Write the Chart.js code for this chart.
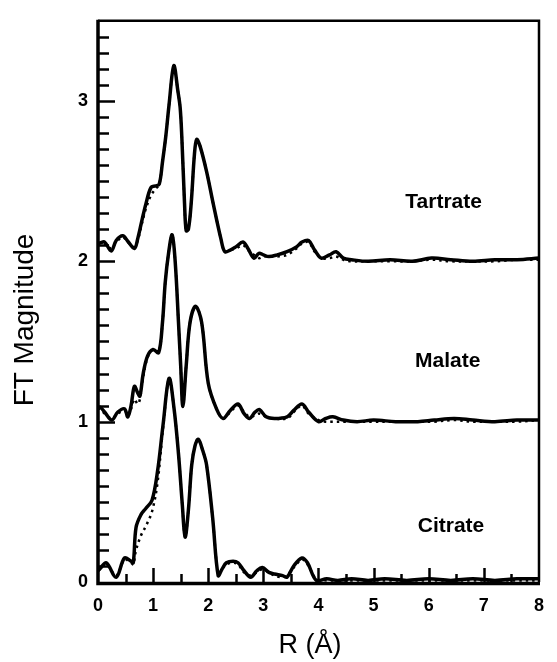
<!DOCTYPE html>
<html>
<head>
<meta charset="utf-8">
<script src="https://cdn.jsdelivr.net/npm/chart.js@4.4.1/dist/chart.umd.min.js"></script>
<style>
  html, body { margin: 0; padding: 0; background: #fff; }
  #wrap { width: 557px; height: 662px; }
</style>
</head>
<body>
<div id="wrap"><canvas id="c" width="557" height="662"></canvas></div>
<script>
// ---- data ----
const seriesNames = ['Tartrate', 'Malate', 'Citrate'];
const xTickValues = [0, 1, 2, 3, 4, 5, 6, 7, 8];
const yTickValues = [0, 1, 2, 3];
const xTitle = 'R (Å)';
const yTitle = 'FT Magnitude';

const tartrateR = [0.00, 0.04, 0.12, 0.24, 0.33, 0.45, 0.54, 0.66, 0.72, 0.80, 0.87, 0.96, 1.04, 1.11, 1.17, 1.23, 1.29, 1.375, 1.45, 1.49, 1.52, 1.57, 1.60, 1.64, 1.69, 1.75, 1.79, 1.85, 1.97, 2.09, 2.23, 2.30, 2.40, 2.50, 2.63, 2.72, 2.83, 2.92, 3.00, 3.10, 3.25, 3.43, 3.60, 3.70, 3.82, 3.93, 4.05, 4.20, 4.32, 4.45, 4.60, 4.90, 5.30, 5.70, 6.05, 6.40, 6.80, 7.20, 7.60, 8.00];
const tartrateData = [2.11, 2.115, 2.12, 2.065, 2.13, 2.16, 2.125, 2.08, 2.14, 2.26, 2.36, 2.46, 2.47, 2.48, 2.62, 2.78, 2.98, 3.22, 3.06, 2.96, 2.78, 2.36, 2.19, 2.20, 2.36, 2.67, 2.76, 2.72, 2.56, 2.36, 2.14, 2.06, 2.07, 2.09, 2.12, 2.08, 2.02, 2.05, 2.04, 2.03, 2.04, 2.06, 2.09, 2.12, 2.13, 2.07, 2.02, 2.04, 2.06, 2.02, 2.01, 2.00, 2.01, 2.00, 2.02, 2.01, 2.00, 2.01, 2.01, 2.02];
const tartrateFit  = [2.11, 2.115, 2.11, 2.08, 2.12, 2.15, 2.12, 2.09, 2.13, 2.24, 2.33, 2.41, 2.45, 2.48, 2.62, 2.78, 2.98, 3.22, 3.06, 2.96, 2.78, 2.36, 2.19, 2.20, 2.36, 2.67, 2.76, 2.72, 2.56, 2.36, 2.14, 2.06, 2.07, 2.08, 2.10, 2.07, 2.04, 2.02, 2.03, 2.03, 2.03, 2.04, 2.08, 2.11, 2.12, 2.06, 2.02, 2.02, 2.03, 2.01, 2.00, 2.00, 2.00, 2.00, 2.01, 2.00, 2.00, 2.00, 2.01, 2.01];

const malateR = [0.00, 0.04, 0.12, 0.25, 0.36, 0.48, 0.54, 0.60, 0.66, 0.72, 0.76, 0.82, 0.90, 1.00, 1.10, 1.17, 1.22, 1.28, 1.345, 1.40, 1.46, 1.50, 1.54, 1.60, 1.67, 1.77, 1.88, 2.00, 2.15, 2.27, 2.40, 2.54, 2.65, 2.75, 2.85, 2.93, 3.05, 3.20, 3.43, 3.55, 3.70, 3.82, 4.00, 4.13, 4.26, 4.45, 4.70, 5.00, 5.40, 5.80, 6.10, 6.46, 6.80, 7.20, 7.60, 8.00];
const malateData = [1.08, 1.09, 1.06, 1.01, 1.06, 1.08, 1.03, 1.10, 1.22, 1.18, 1.16, 1.30, 1.41, 1.45, 1.43, 1.62, 1.87, 2.05, 2.165, 2.00, 1.62, 1.35, 1.095, 1.35, 1.62, 1.72, 1.62, 1.24, 1.08, 1.02, 1.07, 1.11, 1.05, 1.02, 1.06, 1.075, 1.03, 1.02, 1.03, 1.07, 1.11, 1.06, 1.00, 1.02, 1.03, 1.01, 1.00, 1.01, 1.00, 1.00, 1.01, 1.02, 1.01, 1.00, 1.01, 1.01];
const malateFit  = [1.08, 1.08, 1.05, 1.02, 1.05, 1.07, 1.04, 1.08, 1.14, 1.11, 1.14, 1.28, 1.40, 1.45, 1.43, 1.62, 1.87, 2.05, 2.165, 2.00, 1.62, 1.35, 1.095, 1.35, 1.62, 1.72, 1.62, 1.24, 1.08, 1.02, 1.06, 1.10, 1.06, 1.03, 1.04, 1.05, 1.03, 1.02, 1.02, 1.06, 1.10, 1.05, 1.01, 1.00, 1.00, 1.00, 1.00, 1.00, 1.00, 1.00, 1.00, 1.01, 1.00, 1.00, 1.00, 1.01];

const citrateR = [0.00, 0.04, 0.15, 0.33, 0.48, 0.60, 0.64, 0.69, 0.78, 0.87, 0.98, 1.08, 1.18, 1.29, 1.38, 1.46, 1.53, 1.58, 1.64, 1.70, 1.76, 1.82, 1.90, 1.97, 2.08, 2.18, 2.25, 2.33, 2.45, 2.54, 2.65, 2.77, 2.88, 2.98, 3.10, 3.20, 3.35, 3.43, 3.55, 3.70, 3.80, 3.96, 4.15, 4.35, 4.60, 4.90, 5.20, 5.60, 6.00, 6.40, 6.80, 7.20, 7.60, 8.00];
const citrateData = [0.07, 0.085, 0.12, 0.03, 0.15, 0.13, 0.12, 0.34, 0.42, 0.46, 0.51, 0.69, 0.98, 1.27, 1.08, 0.80, 0.48, 0.28, 0.45, 0.73, 0.85, 0.89, 0.82, 0.73, 0.40, 0.04, 0.08, 0.12, 0.13, 0.12, 0.07, 0.03, 0.07, 0.09, 0.06, 0.05, 0.04, 0.03, 0.10, 0.15, 0.12, 0.01, 0.02, 0.01, 0.02, 0.01, 0.02, 0.01, 0.02, 0.01, 0.02, 0.01, 0.02, 0.02];
const citrateFit  = [0.07, 0.08, 0.11, 0.04, 0.14, 0.12, 0.11, 0.20, 0.29, 0.35, 0.44, 0.62, 0.96, 1.27, 1.08, 0.80, 0.48, 0.28, 0.45, 0.73, 0.85, 0.89, 0.82, 0.73, 0.40, 0.05, 0.08, 0.11, 0.12, 0.11, 0.06, 0.04, 0.06, 0.08, 0.06, 0.04, 0.03, 0.04, 0.09, 0.14, 0.11, 0.02, 0.01, 0.01, 0.01, 0.01, 0.01, 0.01, 0.01, 0.01, 0.01, 0.01, 0.01, 0.01];

// ---- build datasets ----
function pts(rs, vs) { return rs.map((r, i) => ({ x: r, y: vs[i] })); }
const solidStyle = { borderColor: '#000', borderWidth: 3.5, pointRadius: 0, tension: 0.35, fill: false, borderJoinStyle: 'round', borderCapStyle: 'round' };
const fitStyle = { borderColor: '#000', borderWidth: 2.5, borderDash: [2.5, 4], pointRadius: 0, tension: 0.35, fill: false };

const datasets = [
  Object.assign({ label: seriesNames[0], data: pts(tartrateR, tartrateData) }, solidStyle),
  Object.assign({ label: seriesNames[1], data: pts(malateR, malateData) }, solidStyle),
  Object.assign({ label: seriesNames[2], data: pts(citrateR, citrateData) }, solidStyle),
  Object.assign({ label: seriesNames[0] + ' fit', data: pts(tartrateR, tartrateFit) }, fitStyle),
  Object.assign({ label: seriesNames[1] + ' fit', data: pts(malateR, malateFit) }, fitStyle),
  Object.assign({ label: seriesNames[2] + ' fit', data: pts(citrateR, citrateFit) }, fitStyle)
];

// label anchor positions (data coords) for curve names
const nameAnchors = [
  { x: 5.575, y: 2.33 },
  { x: 5.75, y: 1.34 },
  { x: 5.80, y: 0.31 }
];

const decor = {
  id: 'decor',
  afterDraw(chart) {
    const { ctx, chartArea: { left, right, top, bottom }, scales: { x, y } } = chart;
    ctx.save();
    ctx.strokeStyle = '#000';
    ctx.lineCap = 'butt';
    // inward y ticks
    ctx.lineWidth = 2.5;
    for (let i = 1; i <= 34; i++) {
      const py = Math.round(y.getPixelForValue(i / 10)) + 0.5;
      const len = (i % 10 === 0) ? 17 : 11;
      ctx.beginPath(); ctx.moveTo(left, py); ctx.lineTo(left + len, py); ctx.stroke();
    }
    // inward x ticks
    for (let i = 1; i <= 15; i++) {
      const px = Math.round(x.getPixelForValue(i / 2)) + 0.5;
      const len = (i % 2 === 0) ? 14 : 8;
      ctx.beginPath(); ctx.moveTo(px, bottom); ctx.lineTo(px, bottom - len); ctx.stroke();
    }
    // frame
    ctx.lineWidth = 2.5;
    ctx.beginPath(); ctx.moveTo(left, top); ctx.lineTo(right, top); ctx.lineTo(right, bottom); ctx.stroke();
    ctx.lineWidth = 3.5;
    ctx.beginPath(); ctx.moveTo(left, top - 1); ctx.lineTo(left, bottom + 1.5); ctx.lineTo(right + 1, bottom + 1.5); ctx.stroke();

    // curve names
    ctx.fillStyle = '#000';
    ctx.font = 'bold 21px "Liberation Sans", Arial, sans-serif';
    ctx.textAlign = 'left';
    ctx.textBaseline = 'alphabetic';
    seriesNames.forEach((n, i) => {
      ctx.fillText(n, x.getPixelForValue(nameAnchors[i].x), y.getPixelForValue(nameAnchors[i].y));
    });

    // axis titles
    ctx.font = '27px "Liberation Sans", Arial, sans-serif';
    ctx.textAlign = 'center';
    ctx.textBaseline = 'middle';
    ctx.fillText(xTitle, 310, 646);
    ctx.save();
    ctx.translate(25, 320);
    ctx.rotate(-Math.PI / 2);
    ctx.font = '28px "Liberation Sans", Arial, sans-serif';
    ctx.fillText(yTitle, 0, 0);
    ctx.restore();
    ctx.restore();
  }
};

new Chart(document.getElementById('c'), {
  type: 'line',
  data: { datasets },
  options: {
    responsive: false,
    animation: false,
    devicePixelRatio: 1,
    layout: { padding: { top: 15, right: 11, left: 0, bottom: 0 } },
    plugins: { legend: { display: false }, tooltip: { enabled: false } },
    scales: {
      x: {
        type: 'linear', min: 0, max: 8,
        grid: { display: false, drawTicks: false },
        border: { display: false },
        afterBuildTicks: s => { s.ticks = xTickValues.map(v => ({ value: v })); },
        afterFit: s => { s.height = 80; },
        ticks: { padding: 13, color: '#000', font: { family: '"Liberation Sans", Arial, sans-serif', size: 18, weight: 'bold' } }
      },
      y: {
        type: 'linear', min: 0, max: 3.5,
        grid: { display: false, drawTicks: false },
        border: { display: false },
        afterBuildTicks: s => { s.ticks = yTickValues.map(v => ({ value: v })); },
        afterFit: s => { s.width = 98; },
        ticks: { padding: 10, color: '#000', font: { family: '"Liberation Sans", Arial, sans-serif', size: 18, weight: 'bold' } }
      }
    }
  },
  plugins: [decor]
});
</script>
</body>
</html>
